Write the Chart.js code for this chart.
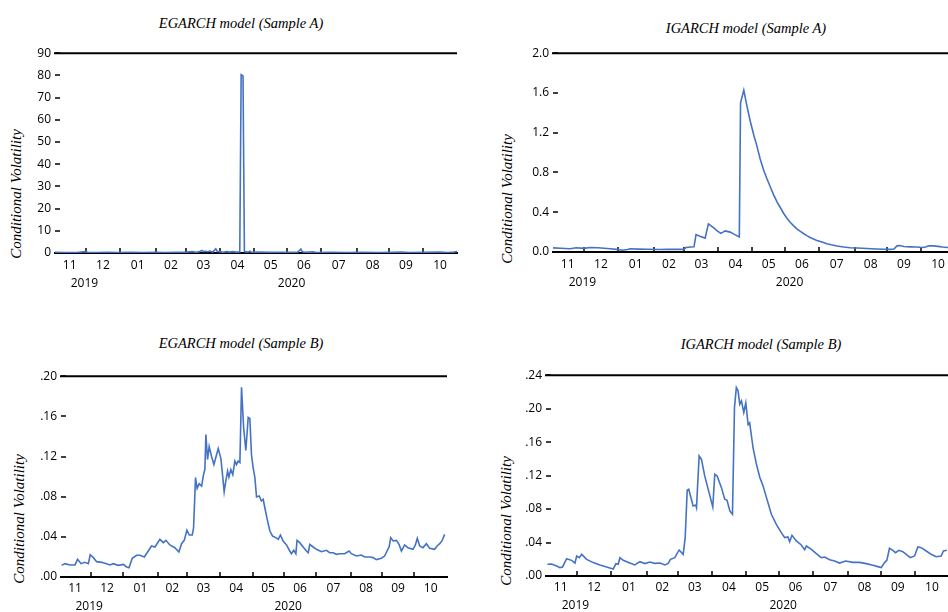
<!DOCTYPE html>
<html>
<head>
<meta charset="utf-8">
<title>Conditional Volatility</title>
<script src="https://cdn.jsdelivr.net/npm/chart.js@4"></script>
<style>
  * { margin: 0; padding: 0; box-sizing: border-box; }
  html, body { width: 948px; height: 612px; overflow: hidden; background: #fff; }
  .panel { position: absolute; }
  .title, .ytitle { position: absolute; font-family: 'Liberation Serif', 'Times New Roman', serif; font-style: italic; color: #000; white-space: nowrap; }
  .title { font-size: 14.5px; transform: translate(-50%, -50%); }
  .ytitle { font-size: 15px; transform: translate(-50%, -50%) rotate(-90deg); }
</style>
</head>
<body>
  <div class="title" style="left:241px;top:23px">EGARCH model (Sample A)</div>
  <div class="title" style="left:746px;top:28px">IGARCH model (Sample A)</div>
  <div class="title" style="left:241px;top:343px">EGARCH model (Sample B)</div>
  <div class="title" style="left:761px;top:344px">IGARCH model (Sample B)</div>
  <div class="ytitle" style="left:16px;top:194px">Conditional Volatility</div>
  <div class="ytitle" style="left:507px;top:199px">Conditional Volatility</div>
  <div class="ytitle" style="left:19px;top:519px">Conditional Volatility</div>
  <div class="ytitle" style="left:506px;top:521px">Conditional Volatility</div>

  <div class="panel" style="left:5px;top:42px;width:462px;height:251px"><canvas id="c1"></canvas></div>
  <div class="panel" style="left:503px;top:42px;width:462px;height:250px"><canvas id="c2"></canvas></div>
  <div class="panel" style="left:11px;top:365px;width:446px;height:252px"><canvas id="c3"></canvas></div>
  <div class="panel" style="left:496px;top:364px;width:463px;height:252px"><canvas id="c4"></canvas></div>

<script>
// x is the trading-day index, counted from 1 Nov 2019
const monthStarts = [0, 21, 43, 66, 86, 108, 130, 151, 173, 196, 217, 239, 261];
const monthLabels = ['11', '12', '01', '02', '03', '04', '05', '06', '07', '08', '09', '10'];
const yearTicks = [20, 154];
const yearLabels = ['2019', '2020'];

const ticksEgarchA = [0, 10, 20, 30, 40, 50, 60, 70, 80, 90];
const ticksIgarchA = [0, 0.4, 0.8, 1.2, 1.6, 2.0];
const ticksEgarchB = [0, 0.04, 0.08, 0.12, 0.16, 0.20];
const ticksIgarchB = [0, 0.04, 0.08, 0.12, 0.16, 0.20, 0.24];

const egarchA_x = [1, 8, 15, 21, 22, 28, 35, 42, 50, 58, 66, 72, 80, 86, 90, 92, 94, 96, 97, 98, 100, 101, 103, 105, 106, 108, 110, 112, 114, 116, 118, 120.5, 121.4, 122.6, 123.5, 126, 127, 128, 132, 140, 150, 158, 160, 161, 163, 168, 170, 180, 190, 200, 210, 220, 225, 230, 240, 250, 255, 259, 261];
const egarchA_y = [0.3, 0.2, 0.25, 0.6, 0.3, 0.2, 0.3, 0.2, 0.35, 0.2, 0.3, 0.2, 0.3, 0.4, 0.6, 0.3, 0.5, 1.2, 0.6, 0.8, 0.6, 0.9, 0.4, 1.9, 0.7, 0.5, 0.3, 0.6, 0.4, 0.6, 0.4, 0.5, 80.3, 79.8, 0.6, 0.4, 0.8, 0.3, 0.4, 0.3, 0.3, 0.4, 1.8, 0.5, 0.3, 0.5, 0.2, 0.3, 0.2, 0.3, 0.2, 0.3, 0.4, 0.2, 0.3, 0.4, 0.2, 0.4, 0.7];

const igarchA_x = [1, 6, 12, 16, 21, 25, 30, 34, 38, 42, 46, 49, 51, 56, 62, 70, 75, 80, 85.5, 87, 90, 92.2, 93.5, 96, 99.4, 101.5, 103, 104.8, 107, 109.5, 111, 112.3, 115.6, 118, 121.5, 122.3, 124.4, 126, 128.5, 130.8, 132.8, 135, 137.1, 139.3, 141.5, 143.7, 145.8, 147.9, 150.1, 152.3, 154.4, 156.5, 158.7, 161, 163, 165.2, 167.3, 169.5, 171.7, 175, 178.1, 181, 184.6, 189, 193.2, 198, 204, 210, 215, 219, 221.5, 223.5, 225, 228, 232, 236, 240, 242, 244, 247, 250, 253, 256, 259, 261];
const igarchA_y = [0.042, 0.038, 0.032, 0.042, 0.037, 0.045, 0.042, 0.037, 0.032, 0.026, 0.018, 0.025, 0.032, 0.029, 0.027, 0.025, 0.028, 0.026, 0.026, 0.045, 0.05, 0.052, 0.175, 0.158, 0.14, 0.283, 0.265, 0.245, 0.215, 0.188, 0.2, 0.212, 0.2, 0.18, 0.152, 1.5, 1.628, 1.5, 1.32, 1.18, 1.07, 0.935, 0.83, 0.74, 0.656, 0.575, 0.506, 0.45, 0.39, 0.34, 0.30, 0.265, 0.233, 0.207, 0.186, 0.165, 0.146, 0.13, 0.116, 0.1, 0.083, 0.072, 0.06, 0.05, 0.043, 0.04, 0.035, 0.03, 0.027, 0.026, 0.03, 0.062, 0.065, 0.055, 0.052, 0.05, 0.046, 0.05, 0.062, 0.062, 0.057, 0.05, 0.045, 0.047, 0.048];

const egarchB_x = [1.4, 3.7, 7.1, 10.4, 12.2, 14.5, 17.1, 19.4, 20.7, 22.8, 25, 28.4, 30.6, 34, 36.2, 39.6, 43, 45.2, 46.8, 49, 51.9, 54.2, 57.1, 59.8, 62, 64.3, 67.6, 69.9, 71.7, 74.3, 77.7, 80.4, 82.2, 84, 85.8, 87.4, 89.4, 90.3, 91.6, 92.7, 94.1, 95.7, 97, 97.9, 98.6, 99.7, 100.8, 102.4, 104, 105.1, 106.9, 108.7, 109.8, 110.9, 112, 113.2, 114.1, 115.4, 116.7, 118.1, 119.2, 120.3, 121.5, 122.6, 124, 125.5, 127.1, 128.2, 129.3, 130.4, 131.6, 132.7, 134.5, 136, 137.2, 138.3, 139.9, 141.7, 143.5, 145.7, 147.3, 148.8, 150.6, 152.9, 155.1, 156.2, 157.8, 159.2, 160, 161.8, 164.1, 166.3, 167.5, 168.6, 170.8, 173.1, 176.4, 179.8, 182, 184.3, 186.5, 188.8, 192.1, 195, 196.6, 200, 203.3, 205.6, 209, 211.2, 213.4, 216.8, 219, 220.6, 222, 223.1, 224.7, 226.9, 228.7, 230.3, 232.5, 234.7, 238.1, 239.7, 241, 242.6, 244.8, 247.1, 249.3, 252.7, 254.3, 256.1, 257.6, 259.4];
const egarchB_y = [0.0116, 0.0133, 0.012, 0.012, 0.0176, 0.0133, 0.0146, 0.0133, 0.0222, 0.0193, 0.0153, 0.0146, 0.0136, 0.012, 0.0133, 0.0116, 0.0126, 0.010, 0.0093, 0.0186, 0.0216, 0.0216, 0.020, 0.0259, 0.0309, 0.0299, 0.0375, 0.0342, 0.0365, 0.0319, 0.0292, 0.0249, 0.0332, 0.0365, 0.0465, 0.0418, 0.0418, 0.049, 0.099, 0.0883, 0.093, 0.0906, 0.102, 0.107, 0.142, 0.117, 0.130, 0.120, 0.112, 0.118, 0.128, 0.118, 0.102, 0.085, 0.0956, 0.1056, 0.0996, 0.107, 0.102, 0.1155, 0.112, 0.1155, 0.114, 0.189, 0.149, 0.126, 0.159, 0.158, 0.122, 0.109, 0.099, 0.0797, 0.0807, 0.0757, 0.0774, 0.069, 0.0574, 0.0458, 0.0408, 0.0392, 0.0375, 0.0418, 0.0359, 0.0319, 0.0259, 0.0232, 0.0266, 0.0232, 0.0365, 0.0342, 0.0299, 0.0259, 0.0242, 0.0325, 0.0299, 0.0276, 0.0252, 0.0266, 0.0242, 0.0242, 0.0226, 0.0232, 0.0232, 0.0259, 0.0232, 0.0209, 0.0219, 0.0199, 0.0199, 0.0193, 0.0173, 0.0186, 0.0209, 0.0259, 0.0299, 0.0392, 0.0359, 0.0365, 0.0325, 0.0259, 0.0319, 0.0292, 0.0276, 0.0319, 0.0385, 0.0309, 0.0292, 0.0332, 0.0286, 0.0276, 0.0309, 0.0332, 0.0359, 0.0425];

const igarchB_x = [1.9, 4.6, 7.9, 10, 11.7, 14.3, 17.5, 19.7, 20.8, 22.5, 24, 27.2, 31.5, 35.8, 40.1, 44.4, 46.1, 47.6, 48.7, 50.8, 55.1, 58.3, 61.6, 64.8, 68, 71.2, 74.5, 77.7, 79.8, 81.3, 84.1, 86.9, 89.5, 90.8, 92.1, 93.1, 95.9, 97.6, 98.1, 99.8, 101.3, 103.4, 106.2, 108.6, 109.9, 111.4, 114.2, 116.3, 117.8, 119.6, 121.3, 122.6, 123.8, 124.9, 126, 127.1, 128.6, 129.9, 131.4, 132.4, 134.6, 136.7, 138.9, 141, 143.2, 146.4, 149.6, 152.8, 155, 157.1, 158.2, 159.7, 162.5, 165.7, 167.9, 169, 172.2, 175.4, 178.6, 180.8, 184, 187.2, 190.4, 194.3, 199, 203.3, 207.6, 211.9, 215.1, 217.3, 219.4, 220.9, 222.6, 224.8, 226.5, 228.7, 231.2, 233.4, 236, 238.8, 240.9, 243.1, 246.3, 249.5, 252.7, 255.9, 257.4, 259.6];
const igarchB_y = [0.014, 0.0144, 0.012, 0.010, 0.0108, 0.0207, 0.0187, 0.0155, 0.0239, 0.0219, 0.0259, 0.0199, 0.016, 0.0132, 0.0108, 0.0084, 0.0148, 0.014, 0.0219, 0.0187, 0.0155, 0.0132, 0.0171, 0.0148, 0.0167, 0.0151, 0.0155, 0.0132, 0.0151, 0.0199, 0.0219, 0.0311, 0.0259, 0.0459, 0.1025, 0.1037, 0.0837, 0.0849, 0.0817, 0.1435, 0.1395, 0.1196, 0.0997, 0.0825, 0.1216, 0.1196, 0.1056, 0.0917, 0.0905, 0.0777, 0.0738, 0.2013, 0.2253, 0.2213, 0.2053, 0.2093, 0.1954, 0.207, 0.181, 0.183, 0.153, 0.134, 0.118, 0.108, 0.094, 0.0738, 0.0618, 0.0518, 0.0459, 0.0466, 0.041, 0.0486, 0.0419, 0.0371, 0.0315, 0.0359, 0.0319, 0.0267, 0.0219, 0.0227, 0.0195, 0.0179, 0.0155, 0.0179, 0.0163, 0.0163, 0.0148, 0.0128, 0.0112, 0.010, 0.016, 0.0187, 0.0331, 0.0307, 0.0279, 0.0307, 0.0291, 0.0259, 0.0219, 0.0239, 0.0347, 0.0339, 0.0299, 0.0259, 0.0231, 0.0239, 0.0299, 0.0307];

const monthMids = monthStarts.slice(0, -1).map((s, i) => (s + monthStarts[i + 1]) / 2);
const tickFont = { family: "'Open Sans', 'DejaVu Sans', sans-serif", size: 12 };

function makeChart(id, xs, ys, yTicks, fmt, monthPad, yearPad) {
  // EViews style: black frame line on top, inward tick marks
  const frame = {
    id: 'frame',
    beforeDatasetsDraw(chart) {
      const { ctx, chartArea: a, scales: { x, y } } = chart;
      ctx.save();
      ctx.strokeStyle = '#000';
      ctx.lineWidth = 2;
      ctx.beginPath(); ctx.moveTo(a.left - 1, a.top); ctx.lineTo(a.right, a.top); ctx.stroke();
      ctx.lineWidth = 1.5;
      yTicks.forEach(v => {
        const py = Math.round(y.getPixelForValue(v));
        ctx.beginPath(); ctx.moveTo(a.left, py); ctx.lineTo(a.left + 5, py); ctx.stroke();
      });
      monthStarts.slice(1, -1).forEach(m => {
        const px = Math.round(x.getPixelForValue(m));
        ctx.beginPath(); ctx.moveTo(px, a.bottom); ctx.lineTo(px, a.bottom - 5); ctx.stroke();
      });
      ctx.restore();
    }
  };

  return new Chart(document.getElementById(id), {
    type: 'line',
    data: {
      datasets: [{
        data: xs.map((x, i) => ({ x, y: ys[i] })),
        borderColor: '#4472C4', borderWidth: 1.6, pointRadius: 0, tension: 0, fill: false
      }]
    },
    options: {
      responsive: true,
      maintainAspectRatio: false,
      animation: false,
      devicePixelRatio: 1,
      layout: { padding: { top: 10, right: 10, left: 0, bottom: 0 } },
      plugins: { legend: { display: false }, tooltip: { enabled: false } },
      scales: {
        x: {
          type: 'linear', min: 1, max: 261, position: 'bottom', weight: 0,
          afterBuildTicks: s => { s.ticks = monthMids.map(v => ({ value: v })); },
          afterFit: s => { s.height = 20; },
          ticks: { callback: (v, i) => monthLabels[i], autoSkip: false, maxRotation: 0, padding: monthPad, font: tickFont, color: '#000' },
          grid: { display: false, drawTicks: false },
          border: { display: true, color: '#000', width: 2 }
        },
        xYear: {
          type: 'linear', min: 1, max: 261, position: 'bottom', weight: 1,
          afterBuildTicks: s => { s.ticks = yearTicks.map(v => ({ value: v })); },
          afterFit: s => { s.height = 20; },
          ticks: { callback: (v, i) => yearLabels[i], autoSkip: false, maxRotation: 0, padding: yearPad, font: tickFont, color: '#000' },
          grid: { display: false, drawTicks: false },
          border: { display: false }
        },
        y: {
          type: 'linear', min: 0, max: yTicks[yTicks.length - 1],
          afterBuildTicks: s => { s.ticks = yTicks.map(v => ({ value: v })); },
          afterFit: s => { s.width = 50; },
          ticks: { callback: v => fmt(v), padding: 4, font: tickFont, color: '#000' },
          grid: { display: false, drawTicks: false },
          border: { display: false }
        }
      }
    },
    plugins: [frame]
  });
}

const fmtInt = v => String(v);
const fmtOne = v => v.toFixed(1);
const fmtDot = v => v.toFixed(2).replace(/^0/, '');

makeChart('c1', egarchA_x, egarchA_y, ticksEgarchA, fmtInt, 5, 3);
makeChart('c2', igarchA_x, igarchA_y, ticksIgarchA, fmtOne, 5, 3);
makeChart('c3', egarchB_x, egarchB_y, ticksEgarchB, fmtDot, 4, 2);
makeChart('c4', igarchB_x, igarchB_y, ticksIgarchB, fmtDot, 4, 2);
</script>
</body>
</html>
